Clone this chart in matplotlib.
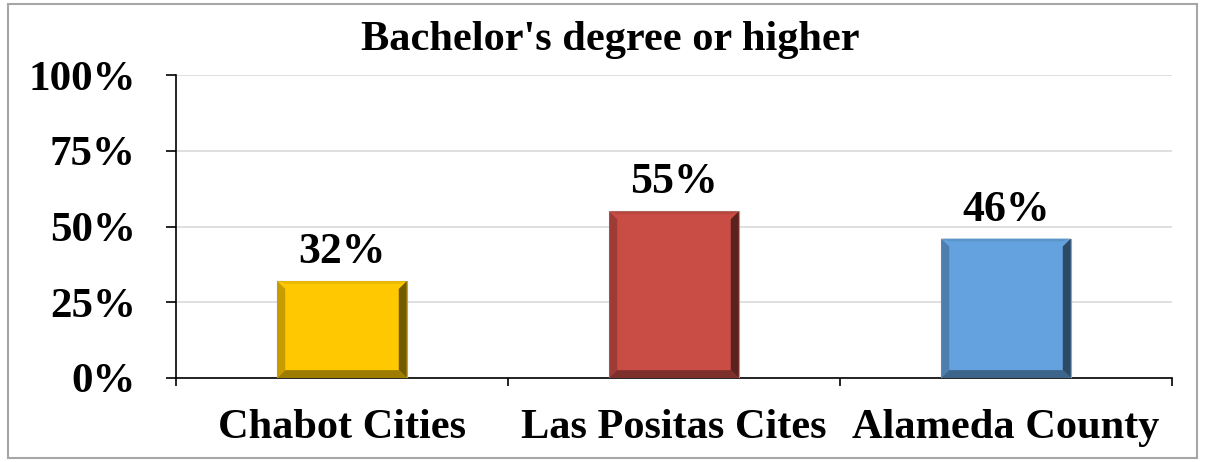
import matplotlib
matplotlib.use("Agg")
import matplotlib.pyplot as plt
from matplotlib.patches import Polygon, Rectangle
import numpy as np

categories = ["Chabot Cities", "Las Positas Cites", "Alameda County"]
values = [32, 55, 46]
labels = ["32%", "55%", "46%"]
colors = ["#FFC800", "#C94C45", "#63A2DE"]
yticks = [0, 25, 50, 75, 100]
ytick_labels = ["0%", "25%", "50%", "75%", "100%"]
title = "Bachelor's degree or higher"

plt.rcParams['font.family'] = ['Liberation Serif', 'DejaVu Serif']

fig = plt.figure(figsize=(12.05, 4.62), dpi=100)
ax = fig.add_axes([176/1205, 1 - 378/462, (1172-176)/1205, (378-75)/462])

x = np.arange(len(categories))
bw = 0.39
bars = ax.bar(x, values, width=bw, color=colors, edgecolor="#A0A0A0", linewidth=0.8, zorder=3)

def shade(c, f):
    rgb = np.array(matplotlib.colors.to_rgb(c))
    return tuple(rgb * f)

bx = 0.024
by = 2.6
for xi, v, c, lab in zip(x, values, colors, labels):
    l, r = xi - bw/2, xi + bw/2
    ax.add_patch(Polygon([(l, 0), (l, v), (l+bx, v-by), (l+bx, by)], closed=True,
                         facecolor=shade(c, 0.78), edgecolor='none', zorder=4))
    ax.add_patch(Polygon([(r, 0), (r, v), (r-bx, v-by), (r-bx, by)], closed=True,
                         facecolor=shade(c, 0.45), edgecolor='none', zorder=4))
    ax.add_patch(Polygon([(l, 0), (r, 0), (r-bx, by), (l+bx, by)], closed=True,
                         facecolor=shade(c, 0.62), edgecolor='none', zorder=4))
    ax.add_patch(Polygon([(l, v), (r, v), (r-bx, v-by*0.35), (l+bx, v-by*0.35)], closed=True,
                         facecolor=shade(c, 0.92), edgecolor='none', zorder=4))
    ax.text(xi, v + 3, lab, ha='center', va='bottom',
            fontsize=31.5, fontweight='bold', zorder=5)

ax.set_xlim(-0.5, len(categories) - 0.5)
ax.set_ylim(0, 100)
ax.set_yticks(yticks)
ax.set_yticklabels(ytick_labels, fontsize=31, fontweight='bold')
ax.set_xticks(x)
ax.set_xticklabels(categories, fontsize=30.5, fontweight='bold')
ax.tick_params(axis='x', length=0, pad=22)
ax.set_xticks(np.arange(len(categories) + 1) - 0.5, minor=True)
ax.tick_params(axis='x', which='minor', length=6, width=1.2, direction='out', color='black')
ax.tick_params(axis='y', length=7, width=1.2, direction='out', pad=22)
ax.yaxis.grid(True, color="#D9D9D9", linewidth=1.2, zorder=0)
ax.set_axisbelow(True)
for s in ['top', 'right']:
    ax.spines[s].set_visible(False)
ax.spines['left'].set_linewidth(1.2)
ax.spines['bottom'].set_linewidth(1.2)

fig.text(610/1205, 1 - 40/462, title, ha='center', va='center', fontsize=30.5, fontweight='bold')

fig.patches.append(Rectangle((8/1205, 4/462), (1197-8)/1205, (458-4)/462, transform=fig.transFigure,
                             fill=False, edgecolor="#A6A6A6", linewidth=1.5))

fig.savefig("out.png", dpi=100)
